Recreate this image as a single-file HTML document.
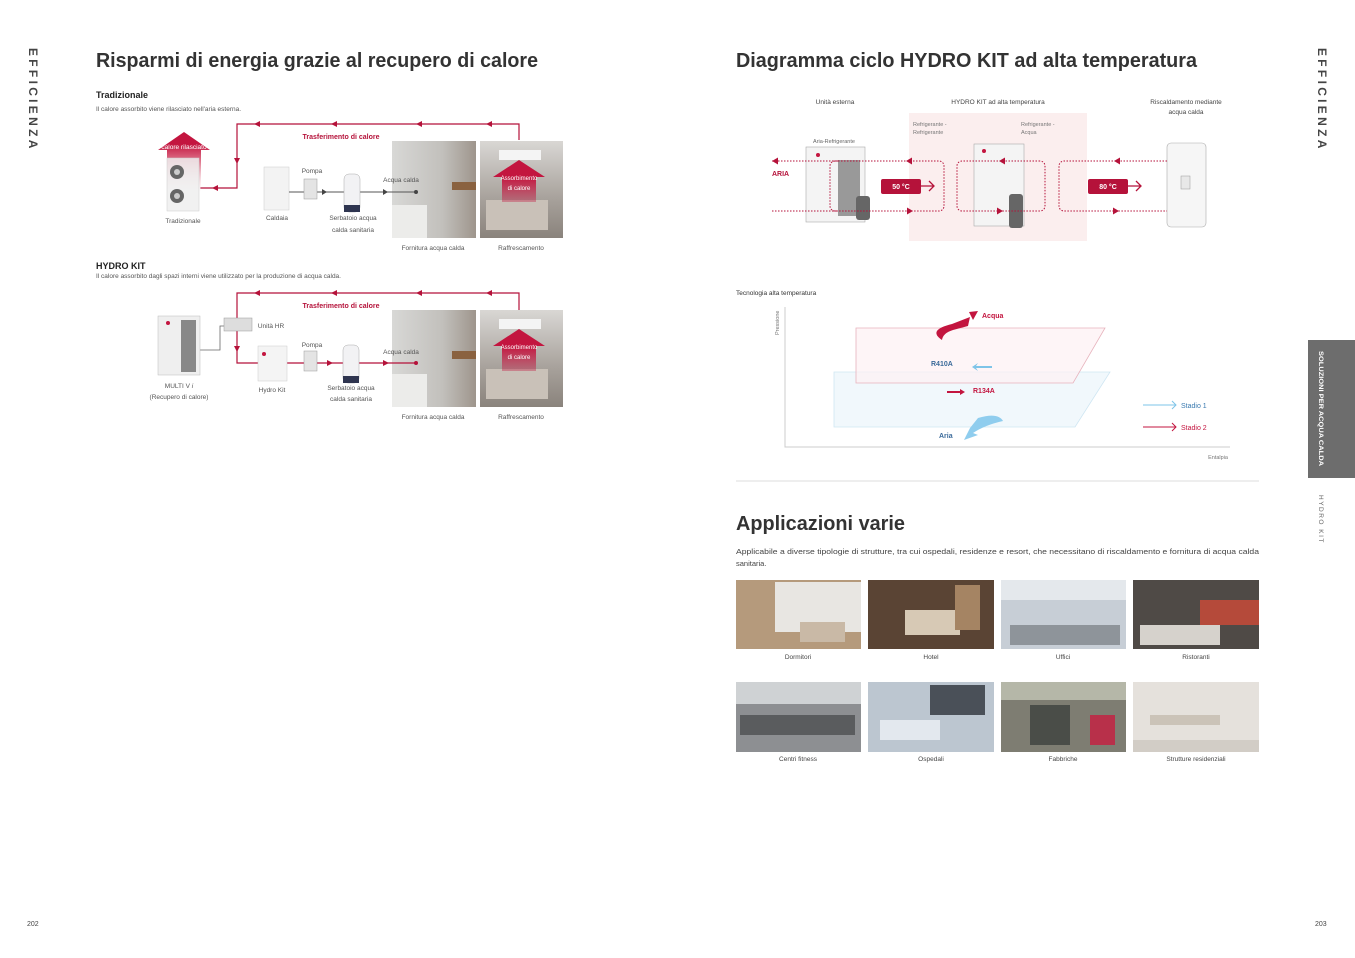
<!DOCTYPE html>
<html><head><meta charset="utf-8"><style>
html,body{margin:0;padding:0;background:#fff;}
svg{display:block;font-family:"Liberation Sans",sans-serif;}
</style></head><body>
<svg width="1355" height="958" viewBox="0 0 1355 958" xmlns="http://www.w3.org/2000/svg">
<defs>
<linearGradient id="redup" x1="0" y1="1" x2="0" y2="0"><stop offset="0" stop-color="#fff" stop-opacity="0.3"/><stop offset="0.5" stop-color="#e07a90"/><stop offset="0.8" stop-color="#c3153f"/></linearGradient>
<linearGradient id="redup2" x1="0" y1="1" x2="0" y2="0"><stop offset="0" stop-color="#c3153f" stop-opacity="0.35"/><stop offset="0.6" stop-color="#c3153f"/></linearGradient>
<linearGradient id="bath" x1="0" y1="0" x2="1" y2="0"><stop offset="0" stop-color="#d8d8d6"/><stop offset="0.6" stop-color="#c2c0bc"/><stop offset="1" stop-color="#9e958c"/></linearGradient>
<linearGradient id="bed" x1="0" y1="0" x2="0" y2="1"><stop offset="0" stop-color="#d9d7d4"/><stop offset="0.6" stop-color="#a7a19b"/><stop offset="1" stop-color="#8a837c"/></linearGradient>
</defs>

<!-- side labels -->
<text x="0" y="0" transform="translate(29,48) rotate(90)" font-size="12" font-weight="bold" fill="#444" letter-spacing="3.3">EFFICIENZA</text>
<text x="0" y="0" transform="translate(1318,48) rotate(90)" font-size="12" font-weight="bold" fill="#444" letter-spacing="3.3">EFFICIENZA</text>
<rect x="1308" y="340" width="47" height="138" fill="#6d6d6d"/>
<text x="0" y="0" transform="translate(1319,351) rotate(90)" font-size="6.5" font-weight="bold" fill="#fff" textLength="115" lengthAdjust="spacingAndGlyphs">SOLUZIONI PER ACQUA CALDA</text>
<text x="0" y="0" transform="translate(1319,495) rotate(90)" font-size="6.5" fill="#666" letter-spacing="1.5">HYDRO KIT</text>
<text x="27" y="926" font-size="7" fill="#444">202</text>
<text x="1315" y="926" font-size="7" fill="#444">203</text>

<!-- LEFT PAGE -->
<text x="96" y="67" font-size="20" font-weight="bold" fill="#333" textLength="442" lengthAdjust="spacingAndGlyphs">Risparmi di energia grazie al recupero di calore</text>
<text x="96" y="98" font-size="9" font-weight="bold" fill="#222">Tradizionale</text>
<text x="96" y="111" font-size="6.5" fill="#555">Il calore assorbito viene rilasciato nell'aria esterna.</text>

<!-- diagram 1 -->
<g stroke="#b5123a" stroke-width="1.2" fill="none">
<polyline points="519,140 519,124 237,124 237,188 200,188"/>
</g>
<g fill="#b5123a">
<path d="M254,124 l6,-3 v6z"/><path d="M331,124 l6,-3 v6z"/><path d="M416,124 l6,-3 v6z"/><path d="M486,124 l6,-3 v6z"/>
<path d="M237,164 l-3,-6 h6z"/><path d="M212,188 l6,-3 v6z"/>
</g>
<text x="341" y="139" font-size="7" font-weight="bold" fill="#b5123a" text-anchor="middle">Trasferimento di calore</text>
<path d="M184,132 L210,150 L201,150 L201,192 L167,192 L167,150 L158,150Z" fill="url(#redup)"/>
<text x="184" y="149" font-size="6.5" fill="#fff" text-anchor="middle">calore rilasciato</text>
<rect x="167" y="158" width="32" height="53" fill="#eee" fill-opacity="0.85" stroke="#ccc" stroke-width="0.5"/>
<circle cx="177" cy="172" r="7" fill="#666"/><circle cx="177" cy="196" r="7" fill="#666"/>
<circle cx="177" cy="172" r="3" fill="#ccc"/><circle cx="177" cy="196" r="3" fill="#ccc"/>
<text x="183" y="223" font-size="6.5" fill="#555" text-anchor="middle">Tradizionale</text>
<rect x="264" y="167" width="25" height="43" fill="#f3f3f3" stroke="#ccc" stroke-width="0.5"/>
<text x="277" y="220" font-size="6.5" fill="#555" text-anchor="middle">Caldaia</text>
<g stroke="#555" stroke-width="1" fill="none"><line x1="289" y1="192" x2="416" y2="192"/></g>
<rect x="304" y="179" width="13" height="20" fill="#e4e4e4" stroke="#999" stroke-width="0.5"/>
<text x="312" y="173" font-size="6.5" fill="#555" text-anchor="middle">Pompa</text>
<path d="M327,192 l-5,-3 v6z M388,192 l-5,-3 v6z" fill="#444"/>
<rect x="344" y="174" width="16" height="38" rx="5" fill="#f2f2f4" stroke="#aaa" stroke-width="0.5"/>
<rect x="344" y="205" width="16" height="7" fill="#2f3550"/>
<text x="353" y="220" font-size="6.5" fill="#555" text-anchor="middle">Serbatoio acqua</text>
<text x="353" y="232" font-size="6.5" fill="#555" text-anchor="middle">calda sanitaria</text>
<rect x="392" y="141" width="84" height="97" fill="url(#bath)"/>
<rect x="452" y="182" width="24" height="8" fill="#8a6240"/>
<rect x="392" y="205" width="35" height="33" fill="#ececea"/>
<line x1="392" y1="192" x2="416" y2="192" stroke="#555" stroke-width="1"/><circle cx="416" cy="192" r="2" fill="#444"/>
<text x="401" y="182" font-size="6.5" fill="#555" text-anchor="middle">Acqua calda</text>
<rect x="480" y="141" width="83" height="97" fill="url(#bed)"/>
<rect x="499" y="150" width="42" height="10" fill="#f4f4f4"/>
<rect x="486" y="200" width="62" height="30" fill="#c9c1b8"/>
<path d="M519,160 L545,177 L536,177 L536,202 L502,202 L502,177 L493,177Z" fill="url(#redup2)"/>
<text x="519" y="180" font-size="6" fill="#fff" text-anchor="middle">Assorbimento</text>
<text x="519" y="190" font-size="6" fill="#fff" text-anchor="middle">di calore</text>
<text x="433" y="250" font-size="6.5" fill="#555" text-anchor="middle">Fornitura acqua calda</text>
<text x="521" y="250" font-size="6.5" fill="#555" text-anchor="middle">Raffrescamento</text>

<!-- diagram 2 -->
<text x="96" y="269" font-size="9" font-weight="bold" fill="#222">HYDRO KIT</text>
<text x="96" y="278" font-size="6.5" fill="#555">Il calore assorbito dagli spazi interni viene utilizzato per la produzione di acqua calda.</text>
<g stroke="#b5123a" stroke-width="1.2" fill="none">
<polyline points="519,310 519,293 237,293 237,363 258,363"/>
<line x1="287" y1="363" x2="416" y2="363"/>
</g>
<g fill="#b5123a">
<path d="M254,293 l6,-3 v6z"/><path d="M331,293 l6,-3 v6z"/><path d="M416,293 l6,-3 v6z"/><path d="M486,293 l6,-3 v6z"/>
<path d="M237,352 l-3,-6 h6z"/><path d="M333,363 l-6,-3 v6z"/><path d="M389,363 l-6,-3 v6z"/>
</g>
<text x="341" y="308" font-size="7" font-weight="bold" fill="#b5123a" text-anchor="middle">Trasferimento di calore</text>
<polyline points="200,350 220,350 220,326 228,326" stroke="#666" stroke-width="0.8" fill="none"/>
<rect x="158" y="316" width="42" height="59" fill="#efefef" stroke="#bbb" stroke-width="0.5"/>
<rect x="181" y="320" width="15" height="52" fill="#888"/>
<circle cx="168" cy="323" r="2" fill="#c3153f"/>
<rect x="224" y="318" width="28" height="13" fill="#ddd" stroke="#999" stroke-width="0.5"/>
<text x="271" y="328" font-size="6.5" fill="#555" text-anchor="middle">Unità HR</text>
<rect x="258" y="346" width="29" height="35" fill="#f4f4f4" stroke="#ccc" stroke-width="0.5"/>
<circle cx="264" cy="354" r="2" fill="#c3153f"/>
<rect x="304" y="351" width="13" height="20" fill="#e4e4e4" stroke="#999" stroke-width="0.5"/>
<text x="312" y="347" font-size="6.5" fill="#555" text-anchor="middle">Pompa</text>
<rect x="343" y="345" width="16" height="38" rx="5" fill="#f2f2f4" stroke="#aaa" stroke-width="0.5"/>
<rect x="343" y="376" width="16" height="7" fill="#2f3550"/>
<text x="179" y="388" font-size="6.5" fill="#555" text-anchor="middle">MULTI V <tspan font-style="italic">i</tspan></text>
<text x="179" y="399" font-size="6.5" fill="#555" text-anchor="middle">(Recupero di calore)</text>
<text x="272" y="392" font-size="6.5" fill="#555" text-anchor="middle">Hydro Kit</text>
<text x="351" y="390" font-size="6.5" fill="#555" text-anchor="middle">Serbatoio acqua</text>
<text x="351" y="401" font-size="6.5" fill="#555" text-anchor="middle">calda sanitaria</text>
<rect x="392" y="310" width="84" height="97" fill="url(#bath)"/>
<rect x="452" y="351" width="24" height="8" fill="#8a6240"/>
<rect x="392" y="374" width="35" height="33" fill="#ececea"/>
<line x1="392" y1="363" x2="416" y2="363" stroke="#b5123a" stroke-width="1.2"/><circle cx="416" cy="363" r="2" fill="#b5123a"/>
<text x="401" y="354" font-size="6.5" fill="#555" text-anchor="middle">Acqua calda</text>
<rect x="480" y="310" width="83" height="97" fill="url(#bed)"/>
<rect x="499" y="319" width="42" height="10" fill="#f4f4f4"/>
<rect x="486" y="369" width="62" height="30" fill="#c9c1b8"/>
<path d="M519,329 L545,346 L536,346 L536,371 L502,371 L502,346 L493,346Z" fill="url(#redup2)"/>
<text x="519" y="349" font-size="6" fill="#fff" text-anchor="middle">Assorbimento</text>
<text x="519" y="359" font-size="6" fill="#fff" text-anchor="middle">di calore</text>
<text x="433" y="419" font-size="6.5" fill="#555" text-anchor="middle">Fornitura acqua calda</text>
<text x="521" y="419" font-size="6.5" fill="#555" text-anchor="middle">Raffrescamento</text>

<!-- RIGHT PAGE -->
<text x="736" y="67" font-size="20" font-weight="bold" fill="#333" textLength="461" lengthAdjust="spacingAndGlyphs">Diagramma ciclo HYDRO KIT ad alta temperatura</text>
<text x="835" y="104" font-size="6.5" fill="#444" text-anchor="middle">Unità esterna</text>
<text x="998" y="104" font-size="6.5" fill="#444" text-anchor="middle">HYDRO KIT ad alta temperatura</text>
<text x="1186" y="104" font-size="6.5" fill="#444" text-anchor="middle">Riscaldamento mediante</text>
<text x="1186" y="114" font-size="6.5" fill="#444" text-anchor="middle">acqua calda</text>
<rect x="909" y="113" width="178" height="128" fill="#fbeeee"/>
<text x="913" y="126" font-size="5.5" fill="#777">Refrigerante -</text>
<text x="913" y="134" font-size="5.5" fill="#777">Refrigerante</text>
<text x="1021" y="126" font-size="5.5" fill="#777">Refrigerante -</text>
<text x="1021" y="134" font-size="5.5" fill="#777">Acqua</text>
<text x="834" y="143" font-size="5.5" fill="#666" text-anchor="middle">Aria-Refrigerante</text>
<rect x="806" y="147" width="59" height="75" fill="#f4f4f4" stroke="#aaa" stroke-width="0.6"/>
<rect x="838" y="160" width="22" height="56" fill="#999"/>
<circle cx="818" cy="155" r="2" fill="#c3153f"/>
<rect x="856" y="196" width="14" height="24" rx="3" fill="#666"/>
<rect x="974" y="144" width="50" height="82" fill="#f4f4f4" stroke="#aaa" stroke-width="0.6"/>
<circle cx="984" cy="151" r="2" fill="#c3153f"/>
<rect x="1009" y="194" width="14" height="34" rx="3" fill="#666"/>
<rect x="1167" y="143" width="39" height="84" rx="4" fill="#f6f6f6" stroke="#aaa" stroke-width="0.6"/>
<rect x="1181" y="176" width="9" height="13" fill="#e8e8e8" stroke="#999" stroke-width="0.5"/>
<g stroke="#b5123a" stroke-width="1" stroke-dasharray="1.5,1.5" fill="none">
<line x1="772" y1="161" x2="838" y2="161"/><line x1="772" y1="211" x2="838" y2="211"/>
<path d="M838,161 h-3 a5,5 0 0 0 -5,5 v40 a5,5 0 0 0 5,5 h3"/>
<path d="M838,161 h101 a5,5 0 0 1 5,5 v40 a5,5 0 0 1 -5,5 h-101"/>
<path d="M1040,161 h-78 a5,5 0 0 0 -5,5 v40 a5,5 0 0 0 5,5 h78 a5,5 0 0 0 5,-5 v-40 a5,5 0 0 0 -5,-5"/>
<path d="M1167,161 h-103 a5,5 0 0 0 -5,5 v40 a5,5 0 0 0 5,5 h103"/>
</g>
<g fill="#b5123a">
<path d="M772,161 l6,-3.5 v7z"/><path d="M906,161 l6,-3.5 v7z"/><path d="M999,161 l6,-3.5 v7z"/><path d="M1114,161 l6,-3.5 v7z"/>
<path d="M913,211 l-6,-3.5 v7z"/><path d="M1003,211 l-6,-3.5 v7z"/><path d="M1119,211 l-6,-3.5 v7z"/>
</g>
<text x="772" y="176" font-size="7" font-weight="bold" fill="#b5123a">ARIA</text>
<rect x="881" y="179" width="40" height="15" rx="2" fill="#b5123a"/>
<text x="901" y="189" font-size="7" font-weight="bold" fill="#fff" text-anchor="middle">50 °C</text>
<path d="M921,186 h12 M929,181 l5,5 l-5,5" stroke="#b5123a" stroke-width="1.3" fill="none"/>
<rect x="1088" y="179" width="40" height="15" rx="2" fill="#b5123a"/>
<text x="1108" y="189" font-size="7" font-weight="bold" fill="#fff" text-anchor="middle">80 °C</text>
<path d="M1128,186 h12 M1136,181 l5,5 l-5,5" stroke="#b5123a" stroke-width="1.3" fill="none"/>

<!-- graph -->
<text x="736" y="295" font-size="6.5" fill="#333">Tecnologia alta temperatura</text>
<text x="0" y="0" transform="translate(779,335) rotate(-90)" font-size="5.5" fill="#777">Pressione</text>
<polyline points="785,307 785,447 1230,447" stroke="#ccc" stroke-width="1" fill="none"/>
<text x="1228" y="459" font-size="5.5" fill="#777" text-anchor="end">Entalpia</text>
<polygon points="834,372 1110,372 1075,427 834,427" fill="#f1f8fc" stroke="#cfe6f2" stroke-width="0.8"/>
<polygon points="856,328 1105,328 1073,383 856,383" fill="#fdf1f3" fill-opacity="0.7" stroke="#e7b3bd" stroke-width="0.8"/>
<path d="M942,340 q-15,-10 10,-16 l18,-7 l-2,9 l-15,4 q-10,3 -11,10z" fill="#c3153f"/>
<path d="M969,312 l9,-1 l-5,9z" fill="#c3153f"/>
<text x="982" y="318" font-size="7" font-weight="bold" fill="#c3153f">Acqua</text>
<text x="931" y="366" font-size="7" font-weight="bold" fill="#3a6a9a">R410A</text>
<path d="M992,366 h-16 l2,-3 l-6,4 l6,4 l-2,-3 h16z" fill="#7ec4e8"/>
<path d="M947,391 h13 v-2 l5,3 l-5,3 v-2 h-13z" fill="#c3153f"/>
<text x="973" y="393" font-size="7" font-weight="bold" fill="#c3153f">R134A</text>
<path d="M1003,421 q-5,-9 -25,-3 l-8,10 l-6,12 l14,-5 l-5,-2 q12,-8 30,-12z" fill="#8fcdee"/>
<text x="939" y="438" font-size="7" font-weight="bold" fill="#3a6a9a">Aria</text>
<path d="M1143,405 h33 M1172,401 l4,4 l-4,4" stroke="#7ec4e8" stroke-width="1" fill="none"/>
<text x="1181" y="408" font-size="7" fill="#3a7ab0">Stadio 1</text>
<path d="M1143,427 h33 M1172,423 l4,4 l-4,4" stroke="#c3153f" stroke-width="1" fill="none"/>
<text x="1181" y="430" font-size="7" fill="#c3153f">Stadio 2</text>

<line x1="736" y1="481" x2="1259" y2="481" stroke="#ddd" stroke-width="1"/>
<text x="736" y="530" font-size="20" font-weight="bold" fill="#333" textLength="169" lengthAdjust="spacingAndGlyphs">Applicazioni varie</text>
<text x="736" y="554" font-size="7.5" fill="#444" textLength="523" lengthAdjust="spacingAndGlyphs">Applicabile a diverse tipologie di strutture, tra cui ospedali, residenze e resort, che necessitano di riscaldamento e fornitura di acqua calda</text>
<text x="736" y="566" font-size="7.5" fill="#444">sanitaria.</text>

<!-- photos row 1 -->
<rect x="736" y="580" width="125" height="69" fill="#b59a7c"/>
<rect x="775" y="582" width="86" height="50" fill="#e8e6e2"/><rect x="800" y="622" width="45" height="20" fill="#c9b9a6"/>
<rect x="868" y="580" width="126" height="69" fill="#5a4434"/>
<rect x="905" y="610" width="55" height="25" fill="#d7c9b5"/><rect x="955" y="585" width="25" height="45" fill="#a58463"/>
<rect x="1001" y="580" width="125" height="69" fill="#c7ced6"/>
<rect x="1001" y="580" width="125" height="20" fill="#e4e8ec"/><rect x="1010" y="625" width="110" height="20" fill="#8e949a"/>
<rect x="1133" y="580" width="126" height="69" fill="#4f4a46"/>
<rect x="1200" y="600" width="59" height="25" fill="#b54a3a"/><rect x="1140" y="625" width="80" height="20" fill="#d6d2cc"/>
<g font-size="6.5" fill="#444" text-anchor="middle">
<text x="798" y="659">Dormitori</text><text x="931" y="659">Hotel</text><text x="1063" y="659">Uffici</text><text x="1196" y="659">Ristoranti</text>
<text x="798" y="761">Centri fitness</text><text x="931" y="761">Ospedali</text><text x="1063" y="761">Fabbriche</text><text x="1196" y="761">Strutture residenziali</text>
</g>
<!-- photos row 2 -->
<rect x="736" y="682" width="125" height="70" fill="#8d8f92"/>
<rect x="736" y="682" width="125" height="22" fill="#cfd2d4"/><rect x="740" y="715" width="115" height="20" fill="#5a5c5e"/>
<rect x="868" y="682" width="126" height="70" fill="#bcc6d0"/>
<rect x="930" y="685" width="55" height="30" fill="#4a5058"/><rect x="880" y="720" width="60" height="20" fill="#e3e8ee"/>
<rect x="1001" y="682" width="125" height="70" fill="#7e7d72"/>
<rect x="1001" y="682" width="125" height="18" fill="#b5b7a8"/><rect x="1030" y="705" width="40" height="40" fill="#4a4d48"/><rect x="1090" y="715" width="25" height="30" fill="#b8304a"/>
<rect x="1133" y="682" width="126" height="70" fill="#e5e1dc"/>
<rect x="1150" y="715" width="70" height="10" fill="#cbc3b8"/><rect x="1133" y="740" width="126" height="12" fill="#d2cdc6"/>
</svg>
</body></html>
